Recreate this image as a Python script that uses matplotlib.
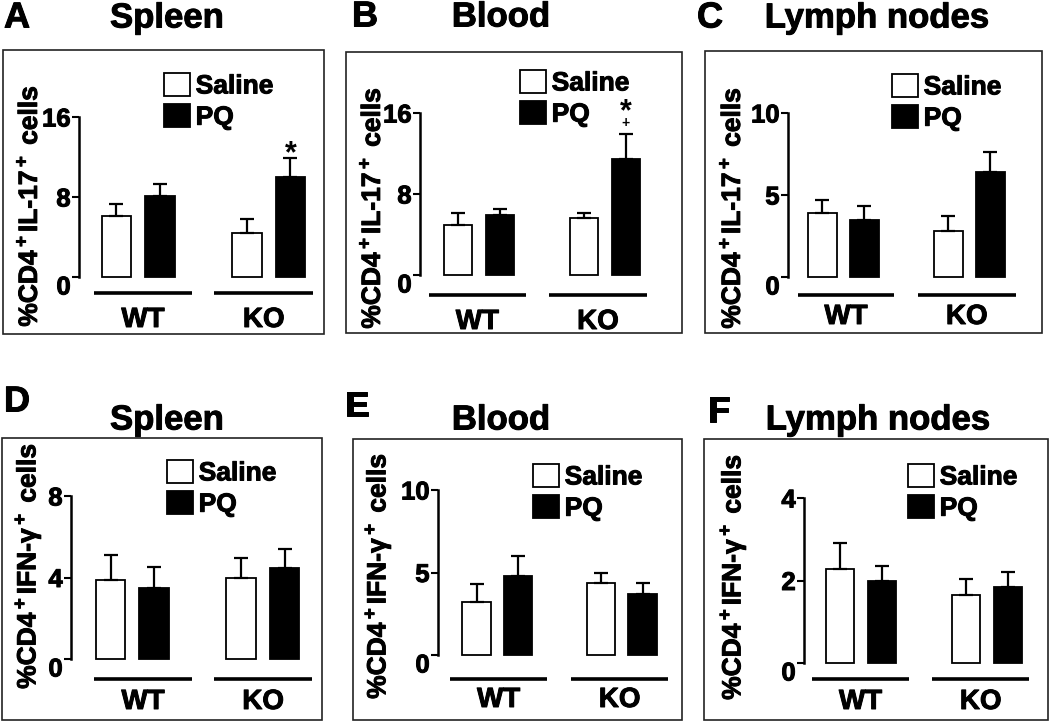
import matplotlib
matplotlib.use('Agg')
import matplotlib.pyplot as plt
import matplotlib.patheffects as pe
import matplotlib.transforms as mtransforms
from matplotlib.patches import Rectangle

plt.rcParams['font.family'] = ['Liberation Sans', 'DejaVu Sans']
plt.rcParams['font.weight'] = 'bold'
plt.rcParams['mathtext.fontset'] = 'custom'
plt.rcParams['mathtext.rm'] = 'Liberation Sans:bold'
plt.rcParams['mathtext.it'] = 'Liberation Sans:bold'
plt.rcParams['mathtext.bf'] = 'Liberation Sans:bold'

groups = ['WT', 'KO']
treatments = ['Saline', 'PQ']

# order: WT saline, WT PQ, KO saline, KO PQ
il17_spleen = [6.1, 8.1, 4.4, 10.0]
il17_spleen_err = [1.2, 1.2, 1.4, 1.9]
il17_blood = [4.9, 5.9, 5.6, 11.5]
il17_blood_err = [1.2, 0.6, 0.5, 2.4]
il17_lymph = [3.9, 3.5, 2.8, 6.4]
il17_lymph_err = [0.8, 0.8, 0.9, 1.2]
ifng_spleen = [3.9, 3.5, 4.0, 4.45]
ifng_spleen_err = [1.2, 1.0, 0.95, 0.95]
ifng_blood = [3.2, 4.8, 4.35, 3.7]
ifng_blood_err = [1.1, 1.2, 0.6, 0.65]
ifng_lymph = [2.28, 2.0, 1.65, 1.84]
ifng_lymph_err = [0.62, 0.36, 0.39, 0.36]

il17_label = '%CD4$^+$IL-17$^+$ cells'
ifng_label = '%CD4$^+$IFN-γ$^+$ cells'

W, H = 1050, 722
fig = plt.figure(figsize=(W / 100, H / 100), dpi=100)
heavy = [pe.withStroke(linewidth=0.7, foreground='black')]


def fx(x):
    return x / W


def fy(y):
    return 1 - y / H


# layout in pixels of the reference picture
panels = [
    dict(letter='A', title='Spleen', mean=il17_spleen, err=il17_spleen_err, ymax=16, ticks=[0, 8, 16],
         ylabel=il17_label, box=(3, 50, 324, 334), spine=79, zero=277, top=117, unit=43.5, xleft=-0.86,
         lines=[(-0.52, 1.74), (2.25, 4.52)], line_off=16, label_off=43, leg=(164, 73),
         ylab_xy=(30, 206), letter_xy=(4, 18), title_xy=(167, 18), star='*'),
    dict(letter='B', title='Blood', mean=il17_blood, err=il17_blood_err, ymax=16, ticks=[0, 8, 16],
         ylabel=il17_label, box=(346, 52, 682, 333), spine=420, zero=275, top=113, unit=42, xleft=-0.9,
         lines=[(-0.69, 1.62), (2.17, 4.5)], line_off=20, label_off=47, leg=(520, 70),
         ylab_xy=(373, 208), letter_xy=(352, 17), title_xy=(501, 17), star='*+'),
    dict(letter='C', title='Lymph nodes', mean=il17_lymph, err=il17_lymph_err, ymax=10, ticks=[0, 5, 10],
         ylabel=il17_label, box=(705, 51, 1042, 333), spine=788, zero=277, top=113, unit=42, xleft=-0.82,
         lines=[(-0.58, 1.7), (2.27, 4.6)], line_off=18, label_off=40, leg=(892, 74),
         ylab_xy=(733, 208), letter_xy=(697, 18), title_xy=(877, 18), star=''),
    dict(letter='D', title='Spleen', mean=ifng_spleen, err=ifng_spleen_err, ymax=8, ticks=[0, 4, 8],
         ylabel=ifng_label, box=(2, 438, 322, 720), spine=71, zero=659, top=496, unit=43.5, xleft=-0.91,
         lines=[(-0.38, 1.87), (2.38, 4.63)], line_off=20, label_off=43, leg=(167, 460),
         ylab_xy=(28, 566), letter_xy=(4, 402), title_xy=(167, 420), star=''),
    dict(letter='E', title='Blood', mean=ifng_blood, err=ifng_blood_err, ymax=10, ticks=[0, 5, 10],
         ylabel=ifng_label, box=(353, 439, 682, 720), spine=438, zero=655, top=490, unit=41.5, xleft=-0.93,
         lines=[(-0.64, 1.7), (2.28, 4.61)], line_off=24, label_off=45, leg=(533, 464),
         ylab_xy=(378, 576), letter_xy=(345, 407), title_xy=(501, 420), star=''),
    dict(letter='F', title='Lymph nodes', mean=ifng_lymph, err=ifng_lymph_err, ymax=4, ticks=[0, 2, 4],
         ylabel=ifng_label, box=(704, 439, 1048, 720), spine=804, zero=663, top=498, unit=42, xleft=-0.86,
         lines=[(-0.67, 1.64), (2.19, 4.5)], line_off=16, label_off=39, leg=(908, 464),
         ylab_xy=(733, 577), letter_xy=(708, 412), title_xy=(878, 420), star=''),
]

positions = [0, 1, 3, 4]
colors = ['white', 'black', 'white', 'black']

for p in panels:
    l, t, r, b = p['box']
    fig.add_artist(Rectangle((fx(l), fy(b)), (r - l) / W, (b - t) / H, transform=fig.transFigure,
                             fill=False, lw=1.2, edgecolor='#222222'))

    width_px = r - 6 - p['spine']
    ax = fig.add_axes([fx(p['spine']), fy(p['zero']), width_px / W, (p['zero'] - p['top']) / H])
    ax.patch.set_visible(False)
    ax.set_xlim(p['xleft'], p['xleft'] + width_px / p['unit'])
    ax.set_ylim(0, p['ymax'])
    pxu = (p['zero'] - p['top']) / p['ymax']

    bars = ax.bar(positions, p['mean'], width=0.68, color=colors, edgecolor='black', lw=1.3, clip_on=False)
    ax.errorbar(positions, p['mean'], yerr=[[0] * 4, p['err']], fmt='none', ecolor='black',
                elinewidth=1.6, capsize=5, capthick=1.6)

    for sp in ['top', 'right', 'bottom']:
        ax.spines[sp].set_visible(False)
    ax.spines['left'].set_linewidth(1.8)
    ax.spines['left'].set_bounds(0, p['ymax'])
    ax.set_xticks([])
    ax.set_yticks(p['ticks'])
    ax.tick_params(axis='y', length=5, width=1.5, pad=1, labelsize=18.5)
    for lbl in ax.get_yticklabels():
        lbl.set_path_effects(heavy)
    zero_lbl = ax.yaxis.get_major_ticks()[0].label1
    zero_lbl.set_transform(zero_lbl.get_transform() +
                           mtransforms.ScaledTranslation(0, -8 / 100, fig.dpi_scale_trans))

    for (x0, x1), g in zip(p['lines'], groups):
        ax.plot([x0, x1], [-p['line_off'] / pxu] * 2, color='black', lw=2.6, clip_on=False,
                solid_capstyle='butt')
        ax.text((x0 + x1) / 2, -p['label_off'] / pxu, g, ha='center', va='center', fontsize=20,
                path_effects=heavy)

    if p['star'] == '*':
        ax.annotate('*', xy=(positions[3], p['mean'][3] + p['err'][3]), xytext=(0, 4),
                    textcoords='offset pixels', ha='center', va='center', fontsize=22)
    elif p['star'] == '*+':
        ax.annotate('+', xy=(positions[3], p['mean'][3] + p['err'][3]), xytext=(0, 11),
                    textcoords='offset pixels', ha='center', va='center', fontsize=10)
        ax.annotate('*', xy=(positions[3], p['mean'][3] + p['err'][3]), xytext=(0, 22),
                    textcoords='offset pixels', ha='center', va='center', fontsize=22)

    leg = ax.legend(handles=[bars.patches[0], bars.patches[1]], labels=treatments, loc='upper left',
                    bbox_to_anchor=(fx(p['leg'][0]), fy(p['leg'][1])), bbox_transform=fig.transFigure,
                    frameon=False, borderpad=0, borderaxespad=0, handlelength=1.0, handleheight=0.95,
                    handletextpad=0.2, labelspacing=0.22, fontsize=19)
    for txt in leg.get_texts():
        txt.set_path_effects(heavy)

    fig.text(fx(p['ylab_xy'][0]), fy(p['ylab_xy'][1]), p['ylabel'], rotation=90,
             ha='center', va='center', fontsize=19, path_effects=heavy)
    fig.text(fx(p['letter_xy'][0]), fy(p['letter_xy'][1]), p['letter'], ha='left', va='center',
             fontsize=26, path_effects=heavy)
    fig.text(fx(p['title_xy'][0]), fy(p['title_xy'][1]), p['title'], ha='center', va='center',
             fontsize=25, path_effects=heavy)

fig.savefig('out.png', dpi=100)
